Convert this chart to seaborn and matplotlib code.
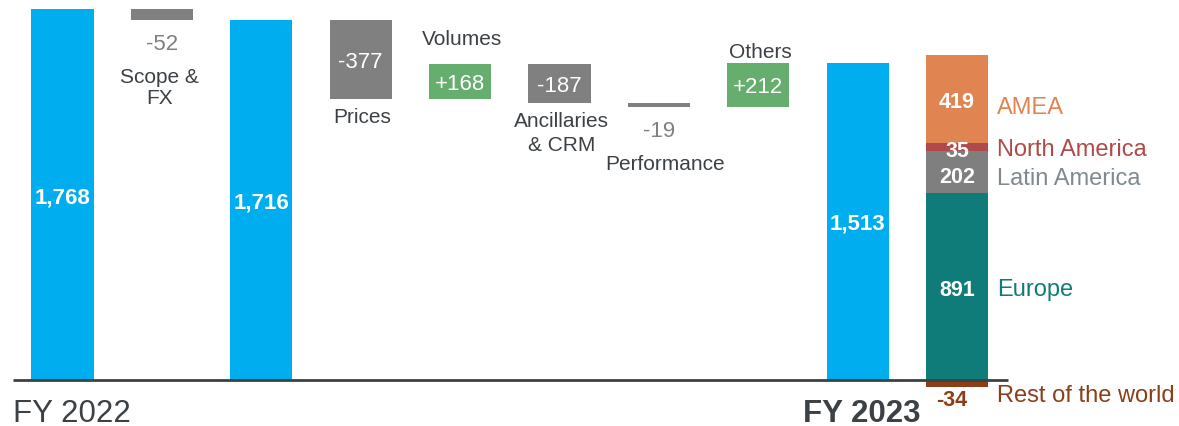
import matplotlib
matplotlib.use("Agg")
import matplotlib.pyplot as plt
import seaborn as sns
import numpy as np

# ---------------- data ----------------
start_label = "FY 2022"
end_label = "FY 2023"
start_value = 1768
step_names = ["Scope &\nFX", "", "Prices", "Volumes", "Ancillaries\n& CRM", "Performance", "Others"]
step_values = [-52, None, -377, 168, -187, -19, 212]   # None = subtotal bar
subtotal_value = 1716
end_value = 1513
regions = ["Europe", "Latin America", "North America", "AMEA"]
region_values = [891, 202, 35, 419]
row_region = "Rest of the world"
row_value = -34

# ---------------- style ----------------
sns.set_theme(style="white")
plt.rcParams["font.family"] = ["Liberation Sans", "DejaVu Sans"]

BLUE = "#00ADEF"
GRAY = "#808080"
GREEN = "#66AE6E"
DARK = "#3C4146"
region_colors = {"Europe": "#107C7A", "Latin America": "#7F7F7F",
                 "North America": "#B04A4A", "AMEA": "#E08552"}
label_colors = {"Europe": "#107C7A", "Latin America": "#7E8A90",
                "North America": "#B04A4A", "AMEA": "#E08552"}
ROW_COLOR = "#8B3E17"

fig = plt.figure(figsize=(11.79, 4.27), dpi=100)
ax = fig.add_axes([0, 0, 1, 1])

W = 0.625
NUDGE = 10  # visual centring of digits


def bar(x, h, bottom, color):
    sns.barplot(x=[x], y=[h], bottom=bottom, color=color, native_scale=True,
                width=W, errorbar=None, ax=ax, saturation=1, linewidth=0)


def total_label(x, v):
    ax.text(x, v / 2 - NUDGE, f"{v:,}", ha="center", va="center",
            color="white", fontsize=16, fontweight="bold")


positions = np.arange(10, dtype=float)

# gap between bar top and the label above it (green steps)
above_gap = {"Volumes": 120, "Others": 55}

# FY2022
bar(positions[0], start_value, 0, BLUE)
total_label(positions[0], start_value)

cum = start_value
for i, (name, v) in enumerate(zip(step_names, step_values)):
    x = positions[i + 1]
    if v is None:
        bar(x, subtotal_value, 0, BLUE)
        total_label(x, subtotal_value)
        cum = subtotal_value
        continue
    color = GREEN if v > 0 else GRAY
    bar(x, v, cum, color)
    top = max(cum, cum + v)
    low = min(cum, cum + v)
    txt = f"+{v}" if v > 0 else f"{v}"
    if abs(v) > 100:
        ax.text(x, (top + low) / 2 - NUDGE, txt, ha="center", va="center",
                color="white", fontsize=16)
        if v > 0:
            ax.text(x + 0.02, top + above_gap[name], name, ha="center", va="center",
                    color=DARK, fontsize=15)
        else:
            ax.text(x + 0.02, low - 38, name, ha="center", va="top", color=DARK,
                    fontsize=15, linespacing=1.3)
    else:
        ax.text(x, low - 110, txt, ha="center", va="center", color=GRAY, fontsize=16)
        off = 0.06 if "\n" not in name else -0.02
        ax.text(x + off, low - 224, name, ha="center", va="top", color=DARK,
                fontsize=15, linespacing=1.12)
    cum += v

# FY2023
bar(positions[8], end_value, 0, BLUE)
total_label(positions[8], end_value)

# region stack
xs = positions[9]
base = 0
for r, v in zip(regions, region_values):
    bar(xs, v, base, region_colors[r])
    mid = base + v / 2
    if r == "AMEA":
        ty, ly = mid - NUDGE, base + v * 0.41
    elif r == "North America":
        ty, ly = mid - 15, mid - 10
    elif r == "Latin America":
        ty, ly = mid - 20, mid - 30
    else:
        ty, ly = mid - 15, mid - 10
    ax.text(xs, ty, f"{v}", ha="center", va="center", color="white",
            fontsize=15.5, fontweight="bold")
    ax.text(xs + 0.405, ly, r, ha="left", va="center", color=label_colors[r], fontsize=17)
    base += v

bar(xs, row_value, 0, ROW_COLOR)
ax.text(xs - 0.05, row_value - 60, f"{row_value}", ha="center", va="center",
        color=ROW_COLOR, fontsize=15.5, fontweight="bold")
ax.text(xs + 0.405, row_value - 38, row_region, ha="left", va="center",
        color=ROW_COLOR, fontsize=17)

# baseline
ax.plot([-0.5, 9.51], [0, 0], color=DARK, lw=2, solid_capstyle="butt", zorder=5)

# period labels
ax.text(-0.5, -158, start_label, ha="left", va="center", color=DARK, fontsize=22.5)
ax.text(positions[8] + 0.63, -158, end_label, ha="right", va="center", color=DARK,
        fontsize=22.5, fontweight="bold")

ax.set_xlim(-0.629, 11.233)
ax.set_ylim(-219, 1816)
ax.set_xticks([])
ax.set_yticks([])
ax.set_xlabel("")
ax.set_ylabel("")
for s in ax.spines.values():
    s.set_visible(False)

fig.savefig("out.png", dpi=100)
